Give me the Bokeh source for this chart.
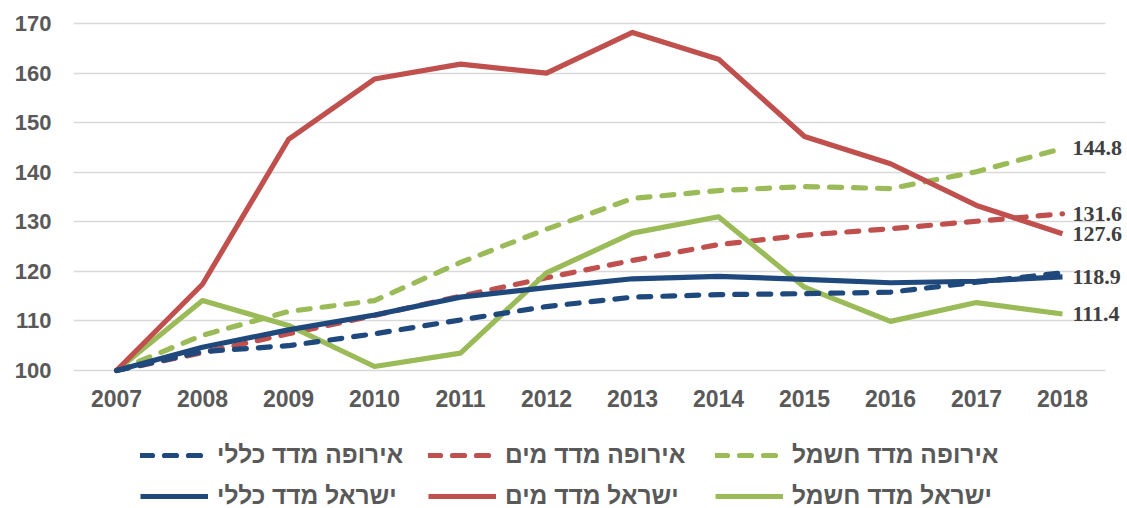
from bokeh.plotting import figure
from bokeh.models import Range1d, FixedTicker, Legend, LegendItem, ColumnDataSource
from bokeh.core.properties import value
from bokeh.embed import file_html
from bokeh.resources import INLINE

years = [2007, 2008, 2009, 2010, 2011, 2012, 2013, 2014, 2015, 2016, 2017, 2018]

europe_general = [100, 103.8, 105.0, 107.4, 110.2, 112.9, 114.8, 115.3, 115.5, 115.8, 117.8, 119.7]
europe_water = [100, 103.6, 107.4, 111.1, 115.0, 118.7, 122.2, 125.4, 127.3, 128.6, 130.1, 131.6]
europe_elec = [100, 107.1, 111.9, 114.1, 121.8, 128.5, 134.7, 136.3, 137.1, 136.7, 140.1, 144.8]
israel_general = [100, 104.7, 108.2, 111.2, 114.8, 116.7, 118.5, 119.0, 118.4, 117.7, 118.0, 118.9]
israel_water = [100, 117.4, 146.6, 158.8, 161.8, 160.0, 168.2, 162.8, 147.2, 141.7, 133.3, 127.6]
israel_elec = [100, 114.1, 109.1, 100.8, 103.5, 119.7, 127.7, 131.0, 116.8, 109.9, 113.7, 111.4]

names_europe = ["אירופה מדד כללי", "אירופה מדד מים", "אירופה מדד חשמל"]
names_israel = ["ישראל מדד כללי", "ישראל מדד מים", "ישראל מדד חשמל"]

end_labels = ["144.8", "131.6", "127.6", "118.9", "111.4"]
end_values = [144.8, 131.6, 127.6, 118.9, 111.4]

y_ticks = [100, 110, 120, 130, 140, 150, 160, 170]

BLUE = "#1F497D"
RED = "#C0504D"
GREEN = "#9BBB59"
TXT = "#595959"

# plot area spans the full lower part of the canvas so the legends (drawn in the
# frame) are not clipped; the x axis is pinned just below the value 100
p = figure(x_range=Range1d(2006.5, 2018.756), y_range=Range1d(72.16, 170.4),
           frame_width=1054, frame_height=487,
           min_border_left=73, min_border_right=0, min_border_top=21, min_border_bottom=0,
           output_backend="svg", toolbar_location=None)
p.outline_line_color = None
p.background_fill_color = "white"
p.border_fill_color = "white"

p.xgrid.grid_line_color = None
p.ygrid.ticker = FixedTicker(ticks=y_ticks)
p.ygrid.grid_line_color = "#D9D9D9"
p.ygrid.grid_line_width = 1.5
p.ygrid.cross_bounds = (2006.5, 2018.5)

p.yaxis.ticker = FixedTicker(ticks=y_ticks)
p.yaxis.axis_line_color = None
p.yaxis.major_tick_line_color = None
p.yaxis.minor_tick_line_color = None
p.yaxis.major_label_standoff = 16
p.yaxis.major_label_text_font = "Liberation Sans"
p.yaxis.major_label_text_font_style = "bold"
p.yaxis.major_label_text_font_size = "22px"
p.yaxis.major_label_text_color = TXT

p.xaxis.ticker = FixedTicker(ticks=years)
p.xaxis.fixed_location = 99.4
p.xaxis.axis_line_color = None
p.xaxis.major_tick_line_color = None
p.xaxis.minor_tick_line_color = None
p.xaxis.major_label_standoff = 11
p.xaxis.major_label_text_font = "Liberation Sans"
p.xaxis.major_label_text_font_style = "bold"
p.xaxis.major_label_text_font_size = "23px"
p.xaxis.major_label_text_color = TXT

LW = 5.2
DASH = "12 12"

r_eel = p.line(years, europe_elec, line_color=GREEN, line_width=LW, line_dash=DASH, line_cap="round")
r_ewa = p.line(years, europe_water, line_color=RED, line_width=LW, line_dash=DASH, line_cap="round")
r_iel = p.line(years, israel_elec, line_color=GREEN, line_width=LW, line_join="round")
r_iwa = p.line(years, israel_water, line_color=RED, line_width=LW, line_join="round")
r_ige = p.line(years, israel_general, line_color=BLUE, line_width=LW, line_join="round")
r_ege = p.line(years, europe_general, line_color=BLUE, line_width=LW, line_dash=DASH, line_cap="round")

lab_src = ColumnDataSource(dict(x=[years[-1]] * len(end_values), y=end_values, t=end_labels))
p.text(x="x", y="y", text="t", source=lab_src, x_offset=10, text_baseline="middle", text_align="left",
       text_font=value("Liberation Serif"), text_font_style="bold", text_font_size="22px", text_color="#404040")

col_x = [67, 355, 642]     # legend column offsets from the plot-area left edge
row_y = [38, -3]           # legend row offsets from the plot-area bottom edge

def add_legend(label, renderer, col, row):
    lg = Legend(items=[LegendItem(label=label, renderers=[renderer])],
                orientation="horizontal", location=(col_x[col], row_y[row]),
                padding=0, margin=0, spacing=0, label_standoff=9,
                glyph_width=68, glyph_height=30, label_height=30,
                border_line_color=None, background_fill_alpha=0,
                label_text_font="Liberation Sans", label_text_font_style="bold",
                label_text_font_size="24.5px", label_text_color=TXT)
    p.add_layout(lg, "center")

for i, (nm, r) in enumerate(zip(names_europe, [r_ege, r_ewa, r_eel])):
    add_legend(nm, r, i, 0)
for i, (nm, r) in enumerate(zip(names_israel, [r_ige, r_iwa, r_iel])):
    add_legend(nm, r, i, 1)

open("out.html", "w").write(file_html(p, INLINE))
